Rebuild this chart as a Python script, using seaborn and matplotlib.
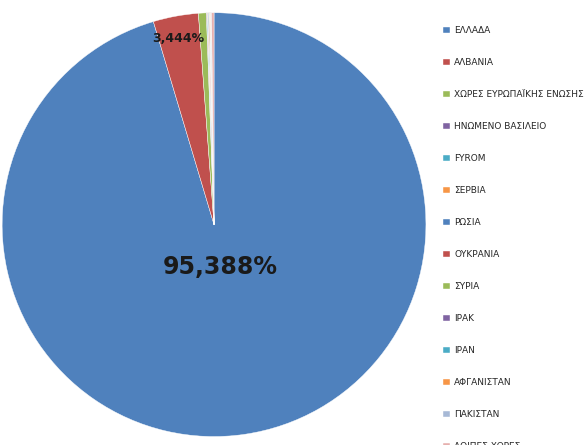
import matplotlib
matplotlib.use("Agg")
import matplotlib.pyplot as plt
import seaborn as sns

sns.set_theme(style="white")
plt.rcParams['font.family'] = ['DejaVu Sans']

categories = ["ΕΛΛΑΔΑ", "ΑΛΒΑΝΙΑ", "ΧΩΡΕΣ ΕΥΡΩΠΑΪΚΗΣ ΕΝΩΣΗΣ", "ΗΝΩΜΕΝΟ ΒΑΣΙΛΕΙΟ",
              "FYROM", "ΣΕΡΒΙΑ", "ΡΩΣΙΑ", "ΟΥΚΡΑΝΙΑ", "ΣΥΡΙΑ", "ΙΡΑΚ", "ΙΡΑΝ",
              "ΑΦΓΑΝΙΣΤΑΝ", "ΠΑΚΙΣΤΑΝ", "ΛΟΙΠΕΣ ΧΩΡΕΣ"]
values = [95.388, 3.444, 0.60, 0.05, 0.05, 0.05, 0.05, 0.05, 0.02, 0.02, 0.02, 0.03, 0.05, 0.188]
colors = ["#4F81BD", "#C0504D", "#9BBB59", "#8064A2", "#4BACC6", "#F79646",
          "#4F81BD", "#C0504D", "#9BBB59", "#8064A2", "#4BACC6", "#F79646",
          "#A7B9D6", "#E6B0AE"]

fig = plt.figure(figsize=(5.88, 4.45), dpi=100)
ax = fig.add_axes([0.0, 0.0, 0.728, 1.0])
wedges, _ = ax.pie(values, colors=colors, startangle=90, counterclock=False,
                   wedgeprops=dict(linewidth=0.3, edgecolor="white"), radius=1.0)
ax.set_aspect("equal")
ax.set_xlim(-1.01, 1.01)
ax.set_ylim(-1.04, 1.06)
ax.text(0.03, -0.2, "95,388%", ha="center", va="center", fontsize=17, fontweight="bold", color="#1a1a1a")
ax.text(-0.17, 0.88, "3,444%", ha="center", va="center", fontsize=9, fontweight="bold", color="#1a1a1a")

leg = fig.legend(wedges, categories, loc="upper left", bbox_to_anchor=(0.748, 0.95),
                 frameon=False, fontsize=6.5, handlelength=0.7, handleheight=0.7,
                 labelspacing=2.55, handletextpad=0.5, borderaxespad=0)
fig.savefig("out.png", dpi=100, facecolor="white")
